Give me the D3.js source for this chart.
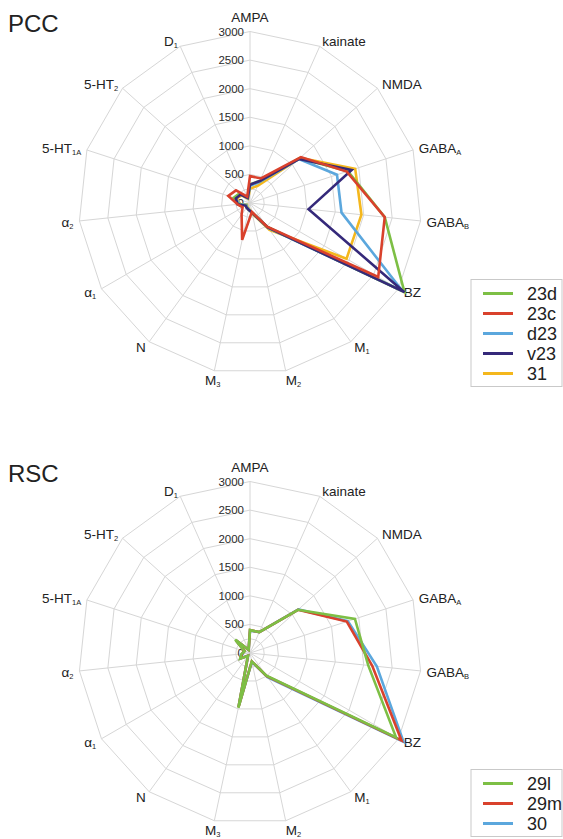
<!DOCTYPE html>
<html><head><meta charset="utf-8">
<script src="https://cdn.jsdelivr.net/npm/d3@7/dist/d3.min.js"></script>
<style>html,body{margin:0;padding:0;background:#fff;} text{font-family:"Liberation Sans",Arial,sans-serif;}</style>
</head><body><div id="chart"></div>
<script>
// ---- data ----
const axisNames = ["AMPA","kainate","NMDA","GABA","GABA","BZ","M","M","M","N","\u03b1","\u03b1","5-HT","5-HT","D"];
const axisSubs  = ["","","","A","B","","1","2","3","","1","2","1A","2","1"];
const tickValues = [0,500,1000,1500,2000,2500,3000];
const ringValues = [250,500,1000,1500,2000,2500,3000];
const maxValue = 3000;

const pccTitle = "PCC";
const pccNames = ["23d","23c","d23","v23","31"];
const pcc23d = [330, 420, 1170, 1800, 2370, 3120, 520, 170, 120, 100, 80, 200, 300, 250, 100];
const pcc23c = [470, 470, 1200, 1780, 2370, 2590, 510, 160, 660, 250, 150, 220, 400, 330, 120];
const pccD23 = [300, 400, 1150, 1600, 1610, 3080, 540, 180, 110, 90, 70, 180, 280, 230, 90];
const pccV23 = [320, 420, 1150, 1870, 1030, 3120, 530, 170, 120, 100, 90, 220, 260, 220, 100];
const pcc31  = [250, 330, 1180, 1935, 1960, 1950, 580, 190, 100, 80, 60, 170, 250, 200, 80];

const rscTitle = "RSC";
const rscNames = ["29l","29m","30"];
const rsc29l = [400, 400, 1130, 1930, 2080, 2950, 490, 150, 980, 60, 200, 150, 100, 350, 60];
const rsc29m = [400, 400, 1130, 1780, 2150, 3060, 500, 150, 970, 60, 190, 140, 100, 330, 60];
const rsc30  = [390, 400, 1140, 1800, 2230, 3100, 520, 160, 960, 60, 190, 140, 100, 330, 60];

// ---- styles ----
const pccColors = ["#7dbf45","#d9412c","#5ba7dd","#35297a","#f4b71d"];
const pccDrawOrder = [4,2,0,3,1];
const rscColors = ["#7dbf45","#d9412c","#5ba7dd"];
const rscDrawOrder = [2,1,0];

const W = 563, H = 839, R = 171.5;
const svg = d3.select("#chart").append("svg").attr("width", W).attr("height", H);

function drawRadar(cx, cy, title, names, series, colors, order) {
  const g = svg.append("g");
  const n = axisNames.length;
  const r = d3.scaleLinear().domain([0, maxValue]).range([0, R]);
  const ang = d3.scalePoint().domain(d3.range(n)).range([0, 2*Math.PI*(n-1)/n]);
  const pt = (i, v) => [cx + r(v)*Math.sin(ang(i)), cy - r(v)*Math.cos(ang(i))];

  // rings
  g.selectAll("path.ring").data(ringValues).join("path")
    .attr("d", v => d3.line()(d3.range(n).map(i => pt(i, v))) + "Z")
    .attr("fill","none").attr("stroke","#d6d6d6").attr("stroke-width",1);
  // spokes
  g.selectAll("line.spoke").data(d3.range(n)).join("line")
    .attr("x1",cx).attr("y1",cy)
    .attr("x2",i=>pt(i,maxValue)[0]).attr("y2",i=>pt(i,maxValue)[1])
    .attr("stroke","#d6d6d6").attr("stroke-width",1);

  // tick labels
  g.selectAll("text.tick").data(tickValues).join("text")
    .attr("x", cx-6).attr("y", v => cy - r(v))
    .attr("text-anchor","end").attr("dominant-baseline","central")
    .attr("font-size",11.5).attr("fill","#2a2a2a").text(d=>d);

  // axis labels
  d3.range(n).forEach(i => {
    const a = ang(i), s = Math.sin(a), c = Math.cos(a);
    let [x, y] = pt(i, maxValue);
    let anchor, dy = 0;
    x += 6*s; y -= 6*c;
    if (Math.abs(s) < 0.1 && c > 0) { anchor = "middle"; y -= 9; }
    else if (Math.abs(s) < 0.25 && c < 0) { anchor = s > 0 ? "start" : "end"; x -= s*6; y += 3; if (s<0) x += 6; }
    else anchor = s > 0 ? "start" : "end";
    const t = g.append("text").attr("x", x).attr("y", y)
      .attr("text-anchor", anchor).attr("dominant-baseline","central")
      .attr("font-size",13.5).attr("fill","#222");
    t.append("tspan").text(axisNames[i]);
    if (axisSubs[i]) t.append("tspan").attr("font-size",7.5).attr("dy",4).text(axisSubs[i]);
  });

  // series lines
  const line = d3.line().curve(d3.curveLinearClosed);
  order.forEach(k => {
    g.append("path")
      .attr("d", line(series[k].map((v,i) => pt(i, v))))
      .attr("fill","none").attr("stroke",colors[k]).attr("stroke-width",2.6)
      .attr("stroke-linejoin","miter");
  });

  // title
  g.append("text").attr("x",8).attr("y",cy-171).attr("font-size",24).attr("fill","#222").text(title);

  // legend
  const lh = names.length*20 + 7, lx = cx + 221, ly = cy + 183.5 - lh;
  g.append("rect").attr("x",lx).attr("y",ly).attr("width",91).attr("height",lh)
    .attr("fill","#fff").attr("stroke","#c9c9c9").attr("stroke-width",1);
  names.forEach((nm, k) => {
    const yy = ly + 14 + k*20;
    g.append("line").attr("x1",lx+12).attr("x2",lx+42).attr("y1",yy).attr("y2",yy)
      .attr("stroke",colors[k]).attr("stroke-width",3);
    g.append("text").attr("x",lx+56).attr("y",yy).attr("dominant-baseline","central")
      .attr("font-size",18).attr("fill","#222").text(nm);
  });
}

drawRadar(250, 203, pccTitle, pccNames, [pcc23d, pcc23c, pccD23, pccV23, pcc31], pccColors, pccDrawOrder);
drawRadar(250, 653, rscTitle, rscNames, [rsc29l, rsc29m, rsc30], rscColors, rscDrawOrder);
</script>
</body></html>
